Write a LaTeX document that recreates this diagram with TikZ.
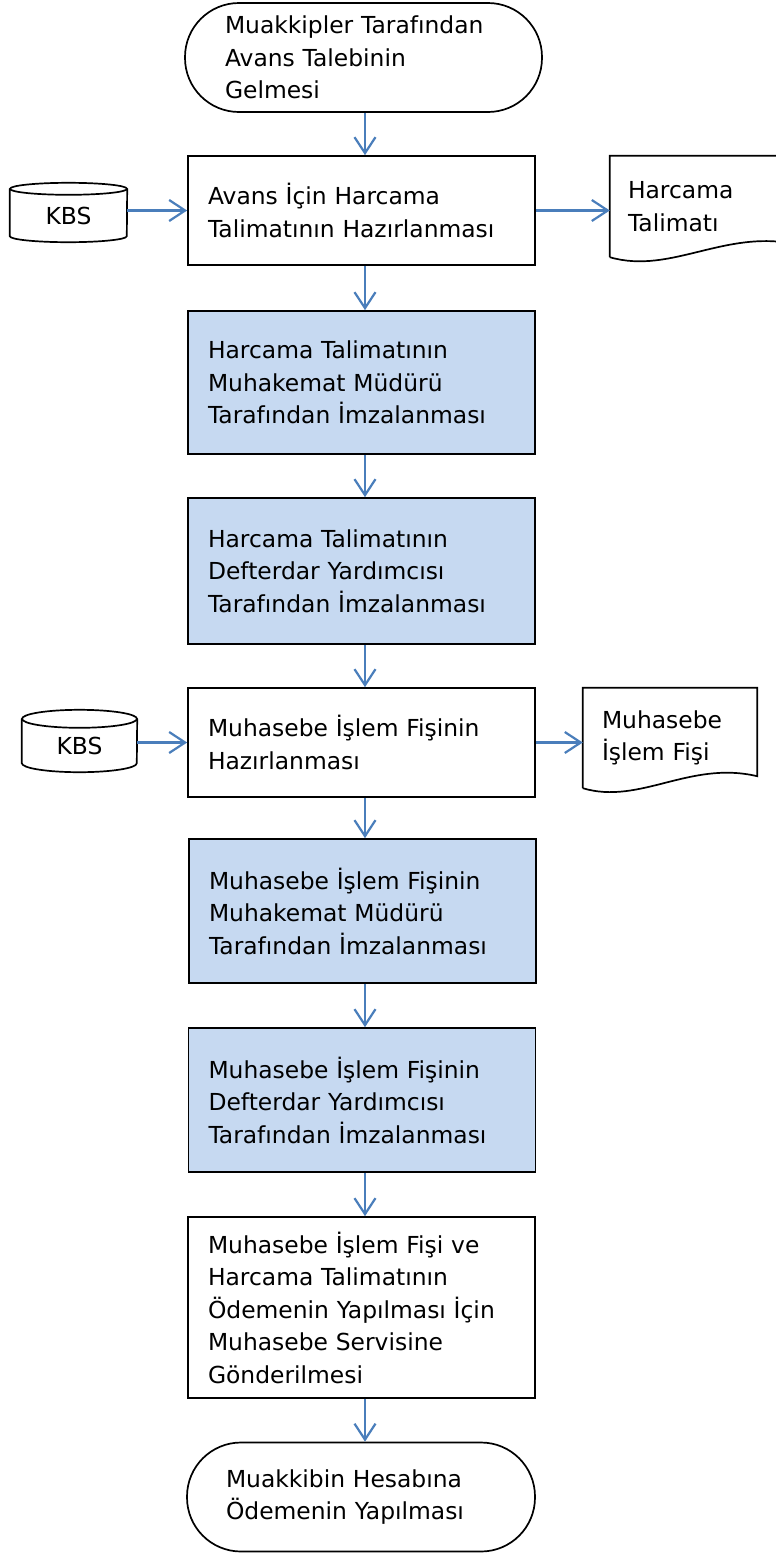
\documentclass[tikz,border=0pt]{standalone}
\usepackage{fontspec}
\setmainfont{DejaVu Sans}
\usetikzlibrary{arrows.meta,positioning,calc}
\definecolor{signfill}{HTML}{C6D9F1}
\definecolor{flowblue}{HTML}{4A7EBB}

\begin{document}
\begin{tikzpicture}[x=1pt,y=-1pt,
  every node/.style={font=\fontsize{23.4}{32.5}\selectfont},
  box/.style={draw,line width=1.7pt,text width=307pt,inner xsep=20pt,inner ysep=0pt,align=left},
  signbox/.style={box,fill=signfill},
  term/.style={draw,line width=1.7pt,rounded corners=54pt,inner ysep=0pt,align=left,minimum height=109pt},
  db/.style={minimum height=53pt,inner sep=0pt},
  doc/.style={inner ysep=0pt,align=left},
  flow/.style={draw=flowblue,line width=2.2pt,-{Straight Barb[length=16pt,width=21pt]}}
]
\useasboundingbox (0,0) rectangle (776,1553);
\clip (0,0) rectangle (776,1553);

% Main column
\node[term,text width=277pt,inner xsep=40pt] (talep) at (363.5,57.5) {Muakkipler Tarafından\\Avans Talebinin\\Gelmesi};
\node[box,minimum height=109pt] (htHaz) at (361.5,210.5) {Avans İçin Harcama\\Talimatının Hazırlanması};
\node[signbox,minimum height=143pt] (htMM) at (361.5,382.5) {Harcama Talimatının\\Muhakemat Müdürü\\Tarafından İmzalanması};
\node[signbox,minimum height=146pt] (htDY) at (361.5,571) {Harcama Talimatının\\Defterdar Yardımcısı\\Tarafından İmzalanması};
\node[box,minimum height=109pt] (mifHaz) at (361.5,742.5) {Muhasebe İşlem Fişinin\\Hazırlanması};
\node[signbox,minimum height=144pt] (mifMM) at (362.5,911) {Muhasebe İşlem Fişinin\\Muhakemat Müdürü\\Tarafından İmzalanması};
\node[signbox,minimum height=144pt] (mifDY) at (362,1100) {Muhasebe İşlem Fişinin\\Defterdar Yardımcısı\\Tarafından İmzalanması};
\node[box,minimum height=181pt] (gonder) at (361.5,1307.5) {Muhasebe İşlem Fişi ve\\Harcama Talimatının\\Ödemenin Yapılması İçin\\Muhasebe Servisine\\Gönderilmesi};
\node[term,text width=270pt,inner xsep=39pt] (odeme) at (361,1497) {Muakkibin Hesabına\\Ödemenin Yapılması};

% Side inputs (KBS)
\node[db,minimum width=117pt] (kbsA) at (68.5,215.5) {KBS};
\node[db,minimum width=115pt] (kbsB) at (79.5,745.5) {KBS};
\draw[line width=1.7pt] (kbsA.north) ellipse [x radius=58.5pt,y radius=6pt];
\draw[line width=1.7pt] (kbsA.north west) -- ([yshift=6pt]kbsA.south west)
  arc [start angle=180,end angle=360,x radius=58.5pt,y radius=6pt] -- (kbsA.north east);
\draw[line width=1.7pt] (kbsB.north) ellipse [x radius=57.5pt,y radius=9pt];
\draw[line width=1.7pt] (kbsB.north west) -- ([yshift=9pt]kbsB.south west)
  arc [start angle=180,end angle=360,x radius=57.5pt,y radius=9pt] -- (kbsB.north east);

% Side outputs (documents)
\node[doc,text width=154pt,inner xsep=18pt,minimum height=101pt] (htDoc) at (705,206.5) {Harcama\\Talimatı};
\node[doc,text width=136pt,inner xsep=19pt,minimum height=100pt] (mifDoc) at (670,738) {Muhasebe\\İşlem Fişi};
\draw[line width=1.7pt] (htDoc.south west) -- (htDoc.north west) -- (htDoc.north east)
  -- ([yshift=12pt]htDoc.south east)
  .. controls ([shift={(117pt,30pt)}]htDoc.south west) and ([shift={(62pt,-18pt)}]htDoc.south west) .. (htDoc.south west);
\draw[line width=1.7pt] (mifDoc.south west) -- (mifDoc.north west) -- (mifDoc.north east)
  -- ([yshift=12pt]mifDoc.south east)
  .. controls ([shift={(107pt,28pt)}]mifDoc.south west) and ([shift={(57pt,-17pt)}]mifDoc.south west) .. (mifDoc.south west);

% Arrows
\coordinate (axis) at (365,0);
\foreach \a/\b in {talep/htHaz, htHaz/htMM, htMM/htDY, htDY/mifHaz, mifHaz/mifMM, mifMM/mifDY, mifDY/gonder, gonder/odeme}{
    \draw[flow] (\a.south -| axis) -- (\b.north -| axis);
}
\draw[flow] (kbsA.east |- htHaz.west) -- (htHaz.west);
\draw[flow] (htHaz.east) -- (htDoc.west |- htHaz.east);
\draw[flow] (kbsB.east |- mifHaz.west) -- (mifHaz.west);
\draw[flow] (mifHaz.east) -- (mifDoc.west |- mifHaz.east);

\end{tikzpicture}
\end{document}
